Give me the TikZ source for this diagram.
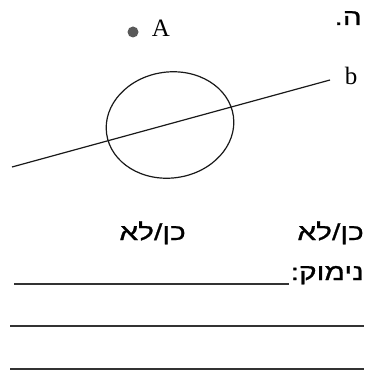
\documentclass[tikz,border=0pt]{standalone}
\usepackage{fontspec}
\usetikzlibrary{shapes.geometric}
\setmainfont{Liberation Serif}
\newfontfamily\hebfont[Script=Hebrew,FakeStretch=1.3,FakeBold=1]{Liberation Sans}
\TeXXeTstate=1
\begin{document}
\begin{tikzpicture}[x=1pt,y=-1pt,
  heb/.style={font=\hebfont\fontsize{23}{27}\selectfont, inner sep=0pt, anchor=base east},
  lat/.style={font=\fontsize{25}{30}\selectfont, inner sep=0pt, anchor=base},
  stroke/.style={draw=black!90, line width=1.2pt},
  rule/.style={draw=black!80, line width=1.8pt}]
\useasboundingbox (0,0) rectangle (367,371);
% label
\node[heb] (lbl) at (362,25) {\beginR ה.\endR};
% point A
\node[circle, fill=black!65, inner sep=0pt, minimum size=11pt] (ptA) at (133,32) {};
\node[lat] (labA) at (161,37) {A};
% ellipse
\node[ellipse, draw=black!90, line width=1.2pt, minimum width=128pt, minimum height=106pt, inner sep=0pt, rotate=8] (ell) at (170,125) {};
% line b
\coordinate (bL) at (12,167);
\coordinate (bR) at (330,80);
\draw[stroke] (bL) -- (bR);
\node[lat] (labB) at (351,85) {b};
% answers
\node[heb] (ans1) at (364,240) {\beginR כן/לא\endR};
\node[heb] (ans2) at (186,240) {\beginR כן/לא\endR};
\node[heb] (reason) at (364,280) {\beginR נימוק:\endR};
% answer lines
\coordinate (r1L) at (14,284); \coordinate (r1R) at (289,284);
\coordinate (r2L) at (10,326); \coordinate (r2R) at (364,326);
\coordinate (r3L) at (10,369); \coordinate (r3R) at (364,369);
\draw[rule] (r1L) -- (r1R);
\draw[rule] (r2L) -- (r2R);
\draw[rule] (r3L) -- (r3R);
\end{tikzpicture}
\end{document}
